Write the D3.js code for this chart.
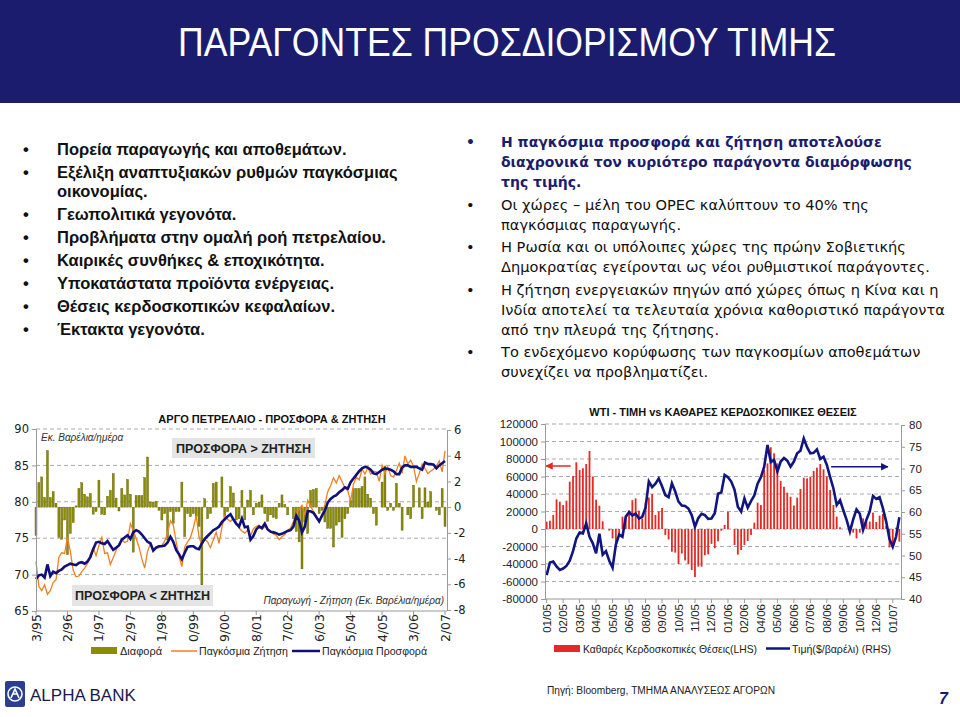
<!DOCTYPE html>
<html lang="el">
<head>
<meta charset="UTF-8">
<title>ΠΑΡΑΓΟΝΤΕΣ ΠΡΟΣΔΙΟΡΙΣΜΟΥ ΤΙΜΗΣ</title>
<script src="https://d3js.org/d3.v7.min.js"></script>
<style>
  body { margin: 0; background: #fff; }
  svg text { font-family: "Liberation Sans", Arial, sans-serif; }
</style>
</head>
<body>
<script>
// ---- κείμενα ----
var pageTitle = "ΠΑΡΑΓΟΝΤΕΣ ΠΡΟΣΔΙΟΡΙΣΜΟΥ ΤΙΜΗΣ";
var leftBullets = [
  ["Πορεία παραγωγής και αποθεμάτων."],
  ["Εξέλιξη αναπτυξιακών ρυθμών παγκόσμιας", "οικονομίας."],
  ["Γεωπολιτικά γεγονότα."],
  ["Προβλήματα στην ομαλή ροή πετρελαίου."],
  ["Καιρικές συνθήκες & εποχικότητα."],
  ["Υποκατάστατα προϊόντα ενέργειας."],
  ["Θέσεις κερδοσκοπικών κεφαλαίων."],
  ["Έκτακτα γεγονότα."]
];
var rightBullets = [
  ["Η παγκόσμια προσφορά και ζήτηση αποτελούσε", "διαχρονικά τον κυριότερο παράγοντα διαμόρφωσης", "της τιμής."],
  ["Οι χώρες – μέλη του OPEC καλύπτουν το 40% της", "παγκόσμιας παραγωγής."],
  ["Η Ρωσία και οι υπόλοιπες χώρες της πρώην Σοβιετικής", "Δημοκρατίας εγείρονται ως νέοι ρυθμιστικοί παράγοντες."],
  ["Η ζήτηση ενεργειακών πηγών από χώρες όπως η Κίνα και η", "Ινδία αποτελεί τα τελευταία χρόνια καθοριστικό παράγοντα", "από την πλευρά της ζήτησης."],
  ["Το ενδεχόμενο κορύφωσης των παγκοσμίων αποθεμάτων", "συνεχίζει να προβληματίζει."]
];

// ---- γράφημα 1: μηνιαία 3/95 - 2/07 ----
var monthLabels = ["3/95","2/96","1/97","12/97","11/98","10/99","9/00","8/01","7/02","6/03","5/04","4/05","3/06","2/07"];
var supply = [
  69.4,69.9,70.0,69.6,71.4,69.8,70.4,70.2,70.5,70.7,71.1,71.3,71.5,71.4,71.3,71.6,71.7,71.5,71.8,72.4,
  73.5,74.4,74.5,74.3,74.2,74.6,74.0,73.4,73.7,74.0,74.8,75.1,75.4,74.9,75.8,76.1,75.9,75.5,75.0,74.5,
  74.3,73.3,73.7,73.9,73.9,74.0,74.4,75.2,74.5,73.4,72.8,72.1,73.0,73.8,73.9,73.9,73.6,73.5,74.3,74.9,
  75.3,75.7,76.1,76.3,76.6,77.2,77.6,78.0,78.3,77.6,77.0,76.6,77.7,76.5,76.6,74.8,75.3,76.2,76.6,76.4,
  77.0,76.2,75.9,75.8,75.7,75.5,75.6,75.8,76.0,76.1,76.6,78.1,77.4,75.8,76.6,78.7,78.7,78.5,77.9,77.3,
  78.1,78.8,79.9,80.4,80.7,80.9,81.3,81.6,82.0,81.8,82.7,83.2,83.7,84.2,84.6,84.8,84.7,84.4,83.9,83.8,
  84.1,84.4,84.6,84.5,84.4,84.2,83.8,83.8,84.7,85.0,85.0,84.8,84.8,84.8,84.6,84.4,85.4,85.2,85.2,85.1,
  84.6,85.0,85.3,85.6
];
var demand = [
  71.8,68.4,67.8,68.6,67.3,67.8,68.9,69.3,72.4,73.0,72.9,75.1,73.2,70.6,69.7,69.8,70.4,70.9,71.5,72.8,
  73.7,72.6,74.0,75.1,72.9,73.0,71.4,72.3,73.3,74.2,74.8,74.4,74.6,77.0,76.1,75.0,73.8,72.2,70.9,73.2,
  74.2,73.3,73.6,73.7,74.0,74.6,75.7,77.4,76.8,74.5,72.5,71.1,73.8,74.5,75.1,76.4,78.1,75.2,74.0,74.9,
  74.5,73.7,74.8,75.8,74.3,76.5,78.1,77.6,77.3,77.7,77.2,76.4,76.0,75.7,76.1,75.3,76.3,76.6,76.8,76.2,
  76.6,76.3,75.9,75.6,75.4,74.8,75.2,75.5,76.1,76.4,77.3,78.4,79.0,79.5,78.2,80.2,79.4,78.7,78.1,77.3,
  78.2,79.6,81.4,82.2,83.3,82.6,83.6,82.8,81.9,81.5,80.1,82.4,83.4,83.0,84.5,83.8,84.7,83.8,84.2,84.1,
  82.8,85.0,83.9,84.8,83.6,83.4,84.3,85.3,83.9,86.3,85.2,85.7,84.9,82.8,83.9,85.2,84.6,83.9,84.2,84.5,
  84.9,85.6,84.1,87.0
];
var diff = [
  -2.2,1.9,2.35,0.75,4.4,0.75,1.2,0.3,-2.35,-2.5,-1.0,-3.7,-2.05,-1.2,0.1,1.45,1.9,1.0,0.8,1.05,
  -0.55,-0.35,2.1,-0.55,-0.6,0.85,1.3,2.6,0.7,-0.3,1.45,0.95,2.15,1.0,-3.5,0.9,0.9,0.9,2.3,3.9,
  0.4,0.4,0.45,-0.25,-1.0,-0.5,-2.55,-0.35,-1.25,-0.35,-0.35,1.95,-2.3,-0.5,-0.75,-0.5,-0.75,-1.5,-6.05,0.65,
  -0.9,-0.5,1.85,1.95,0.0,2.35,-0.75,-0.35,1.6,1.1,-1.0,-0.9,1.3,-1.0,0.55,1.3,-0.6,0.3,0.4,0.95,
  -0.5,-1.1,-0.6,-0.8,-0.9,0.3,0.95,0.2,-0.6,0.0,-0.9,-1.9,-2.7,-4.8,-1.15,-2.05,1.3,1.37,1.45,-0.5,
  -0.25,-1.15,-1.65,-1.65,-3.1,-1.4,-1.15,-2.35,-0.9,-0.5,0.55,1.45,1.45,1.45,1.6,2.35,1.0,0.7,-0.5,-1.4,
  0.0,1.95,3.2,-0.25,0.3,-0.25,1.85,0.3,-1.8,0.0,-0.6,-0.9,1.7,0.0,1.5,-0.9,1.5,0.4,1.2,0.0,
  -0.25,-0.6,1.45,-1.5
];
var leftTicks = [65, 70, 75, 80, 85, 90];
var rightTicks = [-8, -6, -4, -2, 0, 2, 4, 6];

// ---- γράφημα 2: εβδομαδιαία 01/05 - 01/07 ----
var weekLabels = ["01/05","02/05","03/05","04/05","05/05","06/05","08/05","09/05","10/05","11/05","12/05",
  "01/06","02/06","04/06","05/06","06/06","07/06","08/06","09/06","10/06","12/06","01/07"];
var netPositions = [
  8400,9500,16000,33900,31300,27400,32400,54100,60600,76200,67500,69400,74300,89100,60000,33500,26700,8800,0,-1900,
  -10700,-16400,-8800,14000,16000,21000,33000,35000,21000,12000,30000,36000,40000,16000,20000,24000,-7000,-12000,-26000,-27000,
  -40000,-28000,-36000,-40000,-47000,-55000,-43000,-43000,-30000,-29000,-17000,-22000,-14000,-2000,4600,19800,0,-18300,-29300,-24000,
  -18300,-13700,-6900,7200,30100,27400,67400,75000,93400,86500,75000,54800,48300,41500,36900,26700,35800,45700,58600,57900,
  59800,66300,70100,74300,68200,59800,44600,27400,14100,2000,0,0,-1100,-4200,-10700,-4200,12200,8400,8400,18700,
  8000,15200,17100,3400,-21000,-21000,1500,-14500
];
var wtiPrice = [
  45.5,48.4,48.6,47.5,46.7,47.0,47.6,48.8,51.0,53.9,55.3,55.1,57.4,54.3,52.8,50.5,55.0,50.2,51.0,48.8,
  47.2,52.5,54.8,54.3,58.9,60.0,59.2,59.6,58.5,58.9,61.0,67.0,65.7,66.5,67.7,65.9,63.9,63.4,66.6,64.7,
  62.4,61.5,61.4,60.8,59.3,56.6,58.6,59.6,59.3,58.4,58.5,59.7,64.2,64.5,68.5,68.0,67.0,65.1,61.2,60.1,
  63.1,61.0,62.5,63.8,66.5,68.0,70.4,75.4,71.5,72.0,69.3,71.6,72.4,71.8,70.4,71.6,73.5,74.1,76.9,74.9,
  73.5,73.6,74.4,72.2,72.7,70.8,68.0,65.4,61.6,62.7,60.4,58.2,55.5,58.3,60.6,59.6,55.9,58.2,60.1,63.7,
  63.0,63.4,60.9,57.8,53.8,52.0,54.3,58.8
];
var posTicks = [-80000,-60000,-40000,-20000,0,20000,40000,60000,80000,100000,120000];
var priceTicks = [40,45,50,55,60,65,70,75,80];

var navy = "#1c1c6e";
var wide = "'DejaVu Sans', Verdana, sans-serif";
var svg = d3.select("body").append("svg")
  .attr("width", 960).attr("height", 717);

// ---- κεφαλίδα ----
svg.append("rect").attr("x", 0).attr("y", 0).attr("width", 960).attr("height", 103).attr("fill", navy);
svg.append("text").attr("x", 178).attr("y", 56)
  .attr("font-size", 41).attr("fill", "#fff")
  .attr("textLength", 658).attr("lengthAdjust", "spacingAndGlyphs")
  .text(pageTitle);

// ---- κουκκίδες ----
function bullets(list, x0, xt, y0, lineH, gap, st) {
  var y = y0;
  list.forEach(function(lines, k) {
    var s = st(k);
    svg.append("text").attr("x", x0).attr("y", y).attr("font-size", s.size)
      .attr("font-weight", s.weight).attr("fill", s.color).style("font-family", s.family).text("•");
    lines.forEach(function(l, j) {
      svg.append("text").attr("x", xt).attr("y", y + j * lineH)
        .attr("font-size", s.size).attr("font-weight", s.weight).attr("fill", s.color)
        .style("font-family", s.family).text(l);
    });
    y += (lines.length - 1) * lineH + gap;
  });
}
bullets(leftBullets, 23, 57, 155, 19, 23, function() {
  return {size: 16.5, weight: "bold", color: "#111", family: "'Liberation Sans', Arial, sans-serif"};
});
bullets(rightBullets, 466, 501, 147, 20, 22.5, function(k) {
  return k === 0 ? {size: 14, weight: "bold", color: navy, family: wide}
                 : {size: 14.6, weight: "normal", color: "#111", family: wide};
});

// ---- γράφημα 1 ----
var xL = d3.scaleLinear().domain([0, supply.length - 1]).range([36, 445]);
var yL = d3.scaleLinear().domain([65, 90]).range([611, 429]);
var yD = d3.scaleLinear().domain([-8, 6]).range([610, 430]);

var g1 = svg.append("g");
g1.selectAll(".grid").data(leftTicks.slice(1)).enter().append("line")
  .attr("x1", 36).attr("x2", 447).attr("y1", d => yL(d)).attr("y2", d => yL(d))
  .attr("stroke", "#aaa").attr("stroke-dasharray", "4,3");

g1.selectAll(".bar").data(diff).enter().append("rect")
  .attr("x", (d, i) => xL(i) - 1).attr("width", 2)
  .attr("y", d => yD(Math.max(0, d))).attr("height", d => Math.abs(yD(d) - yD(0)))
  .attr("fill", "#8c8c00").attr("stroke", "#5c5c00").attr("stroke-width", 0.4);

g1.append("path").datum(demand)
  .attr("d", d3.line().x((d, i) => xL(i)).y(d => yL(d)))
  .attr("fill", "none").attr("stroke", "#f08020").attr("stroke-width", 1.3);
g1.append("path").datum(supply)
  .attr("d", d3.line().x((d, i) => xL(i)).y(d => yL(d)))
  .attr("fill", "none").attr("stroke", "#10107a").attr("stroke-width", 2.6);

var axL = g1.append("g").attr("transform", "translate(36,0)")
  .call(d3.axisLeft(yL).tickValues(leftTicks).tickSize(4).tickPadding(3));
var axR = g1.append("g").attr("transform", "translate(447,0)")
  .call(d3.axisRight(yD).tickValues(rightTicks).tickSize(4).tickPadding(3).tickFormat(d => String(d)));
[axL, axR].forEach(function(a) {
  a.select(".domain").attr("stroke", "#999");
  a.selectAll(".tick line").attr("stroke", "#999");
  a.selectAll("text").attr("font-size", 11.5).attr("fill", "#222").style("font-family", wide);
});
g1.append("line").attr("x1", 36).attr("x2", 447).attr("y1", 611).attr("y2", 611).attr("stroke", "#999");

var clip1 = svg.append("clipPath").attr("id", "clipx1");
clip1.append("rect").attr("x", 0).attr("y", 611).attr("width", 470).attr("height", 32);
var xl1 = g1.append("g").attr("clip-path", "url(#clipx1)");
monthLabels.forEach(function(m, k) {
  var xi = xL(k * 11);
  xl1.append("line").attr("x1", xi).attr("x2", xi).attr("y1", 611).attr("y2", 615).attr("stroke", "#999");
  xl1.append("text").attr("transform", "translate(" + (xi + 4.5) + ",614) rotate(-90)")
    .attr("text-anchor", "end").attr("font-size", 12.5).attr("fill", "#222")
    .style("font-family", wide).text(m);
});

g1.append("text").attr("x", 272).attr("y", 423).attr("text-anchor", "middle")
  .attr("font-size", 11).attr("font-weight", "bold").attr("fill", "#111")
  .text("ΑΡΓΟ ΠΕΤΡΕΛΑΙΟ - ΠΡΟΣΦΟΡΑ & ΖΗΤΗΣΗ");
g1.append("text").attr("x", 41).attr("y", 441).attr("font-size", 10).attr("font-style", "italic")
  .attr("fill", "#333").text("Εκ. Βαρέλια/ημέρα");
g1.append("text").attr("x", 444).attr("y", 604).attr("text-anchor", "end").attr("font-size", 10)
  .attr("font-style", "italic").attr("fill", "#333").text("Παραγωγή - Ζήτηση (Εκ. Βαρέλια/ημέρα)");

function noteBox(x, y, w, h, t) {
  g1.append("rect").attr("x", x).attr("y", y).attr("width", w).attr("height", h).attr("fill", "#e4e4e4");
  g1.append("text").attr("x", x + w / 2).attr("y", y + h / 2 + 4.5).attr("text-anchor", "middle")
    .attr("font-size", 12.5).attr("font-weight", "bold").attr("fill", "#222").text(t);
}
noteBox(172, 438, 143, 20, "ΠΡΟΣΦΟΡΑ > ΖΗΤΗΣΗ");
noteBox(72, 585, 141, 21, "ΠΡΟΣΦΟΡΑ < ΖΗΤΗΣΗ");

function legText(g, x, y, w, t) {
  g.append("text").attr("x", x).attr("y", y).attr("textLength", w)
    .attr("lengthAdjust", "spacingAndGlyphs").text(t);
}

// υπόμνημα 1
var lg1 = g1.append("g").attr("font-size", 11.5).attr("fill", "#222");
lg1.append("rect").attr("x", 91).attr("y", 647).attr("width", 26).attr("height", 7).attr("fill", "#8c8c00");
legText(lg1, 120, 655, 42, "Διαφορά");
lg1.append("line").attr("x1", 171).attr("x2", 197).attr("y1", 651).attr("y2", 651).attr("stroke", "#f08020").attr("stroke-width", 1.5);
legText(lg1, 199, 655, 89, "Παγκόσμια Ζήτηση");
lg1.append("line").attr("x1", 292).attr("x2", 320).attr("y1", 651).attr("y2", 651).attr("stroke", "#10107a").attr("stroke-width", 2.5);
legText(lg1, 322, 655, 105, "Παγκόσμια Προσφορά");

// ---- γράφημα 2 ----
var xR = d3.scaleLinear().domain([-0.5, netPositions.length - 0.5]).range([545, 901]);
var yP = d3.scaleLinear().domain([-80000, 120000]).range([599, 424]);
var yW = d3.scaleLinear().domain([40, 80]).range([599, 425]);

var g2 = svg.append("g");
g2.selectAll(".grid").data(posTicks.slice(1)).enter().append("line")
  .attr("x1", 545).attr("x2", 901).attr("y1", d => yP(d)).attr("y2", d => yP(d))
  .attr("stroke", "#aaa").attr("stroke-dasharray", "4,3");

g2.selectAll(".bar").data(netPositions).enter().append("rect")
  .attr("x", (d, i) => xR(i) - 0.9).attr("width", 1.8)
  .attr("y", d => yP(Math.max(0, d))).attr("height", d => Math.abs(yP(d) - yP(0)))
  .attr("fill", "#e42a23");

g2.append("path").datum(wtiPrice)
  .attr("d", d3.line().x((d, i) => xR(i)).y(d => yW(d)))
  .attr("fill", "none").attr("stroke", "#10157f").attr("stroke-width", 2.6);

var axP = g2.append("g").attr("transform", "translate(545,0)")
  .call(d3.axisLeft(yP).tickValues(posTicks).tickSize(4).tickPadding(3).tickFormat(d => String(d)));
var axW = g2.append("g").attr("transform", "translate(901,0)")
  .call(d3.axisRight(yW).tickValues(priceTicks).tickSize(4).tickPadding(4));
[axP, axW].forEach(function(a) {
  a.select(".domain").attr("stroke", "#999");
  a.selectAll(".tick line").attr("stroke", "#999");
  a.selectAll("text").attr("font-size", 11.5).attr("fill", "#222")
    .style("font-family", "'Liberation Sans', Arial, sans-serif");
});
g2.append("line").attr("x1", 545).attr("x2", 901).attr("y1", 599).attr("y2", 599).attr("stroke", "#999");
weekLabels.forEach(function(w, k) {
  var xi = xR(k * 5);
  g2.append("line").attr("x1", xi).attr("x2", xi).attr("y1", 599).attr("y2", 603).attr("stroke", "#999");
  g2.append("text").attr("transform", "translate(" + (xi + 4) + ",604) rotate(-90)")
    .attr("text-anchor", "end").attr("font-size", 11.5).attr("fill", "#222").text(w);
});

g2.append("text").attr("x", 723).attr("y", 416).attr("text-anchor", "middle")
  .attr("font-size", 11).attr("font-weight", "bold").attr("fill", "#111")
  .text("WTI - ΤΙΜΗ vs ΚΑΘΑΡΕΣ ΚΕΡΔΟΣΚΟΠΙΚΕΣ ΘΕΣΕΙΣ");

// βέλη
var defs = svg.append("defs");
[["arRed", "#e42a23"], ["arNavy", "#10157f"]].forEach(function(a) {
  defs.append("marker").attr("id", a[0]).attr("viewBox", "0 0 10 10").attr("refX", 9).attr("refY", 5)
    .attr("markerWidth", 5).attr("markerHeight", 5).attr("orient", "auto")
    .append("path").attr("d", "M0,0 L10,5 L0,10 z").attr("fill", a[1]);
});
g2.append("line").attr("x1", xR(7.3)).attr("x2", xR(-0.2)).attr("y1", yP(72000)).attr("y2", yP(72000))
  .attr("stroke", "#e42a23").attr("stroke-width", 1.5).attr("marker-end", "url(#arRed)");
g2.append("line").attr("x1", xR(86.3)).attr("x2", xR(103.5)).attr("y1", yW(70.4)).attr("y2", yW(70.4))
  .attr("stroke", "#10157f").attr("stroke-width", 1.5).attr("marker-end", "url(#arNavy)");

// υπόμνημα 2
var lg2 = g2.append("g").attr("font-size", 11.5).attr("fill", "#222");
lg2.append("rect").attr("x", 554).attr("y", 645).attr("width", 26).attr("height", 7).attr("fill", "#e42a23");
legText(lg2, 583, 653, 174, "Καθαρές Κερδοσκοπικές Θέσεις(LHS)");
lg2.append("line").attr("x1", 766).attr("x2", 790).attr("y1", 648.5).attr("y2", 648.5).attr("stroke", "#10157f").attr("stroke-width", 2.5);
legText(lg2, 792, 653, 99, "Τιμή($/βαρέλι) (RHS)");

// ---- υποσέλιδο ----
var logo = svg.append("g");
logo.append("rect").attr("x", 5).attr("y", 681).attr("width", 20).attr("height", 26).attr("rx", 2).attr("fill", "#2b3f8e");
logo.append("circle").attr("cx", 15).attr("cy", 694).attr("r", 7).attr("fill", "none").attr("stroke", "#fff").attr("stroke-width", 1.6);
logo.append("path").attr("d", "M11,698 L15,689 L19,698 M13,694 L17,694").attr("fill", "none").attr("stroke", "#fff").attr("stroke-width", 1.6);
svg.append("text").attr("x", 30).attr("y", 701).attr("font-size", 17).attr("fill", "#1a1a4a").text("ALPHA BANK");
svg.append("text").attr("x", 547).attr("y", 694).attr("font-size", 10).attr("fill", "#222")
  .attr("textLength", 228).attr("lengthAdjust", "spacingAndGlyphs")
  .text("Πηγή: Bloomberg, ΤΜΗΜΑ ΑΝΑΛΥΣΕΩΣ ΑΓΟΡΩΝ");
svg.append("text").attr("x", 939).attr("y", 704).attr("font-size", 16).attr("font-weight", "bold")
  .attr("font-style", "italic").attr("fill", navy).text("7");
</script>
</body>
</html>
